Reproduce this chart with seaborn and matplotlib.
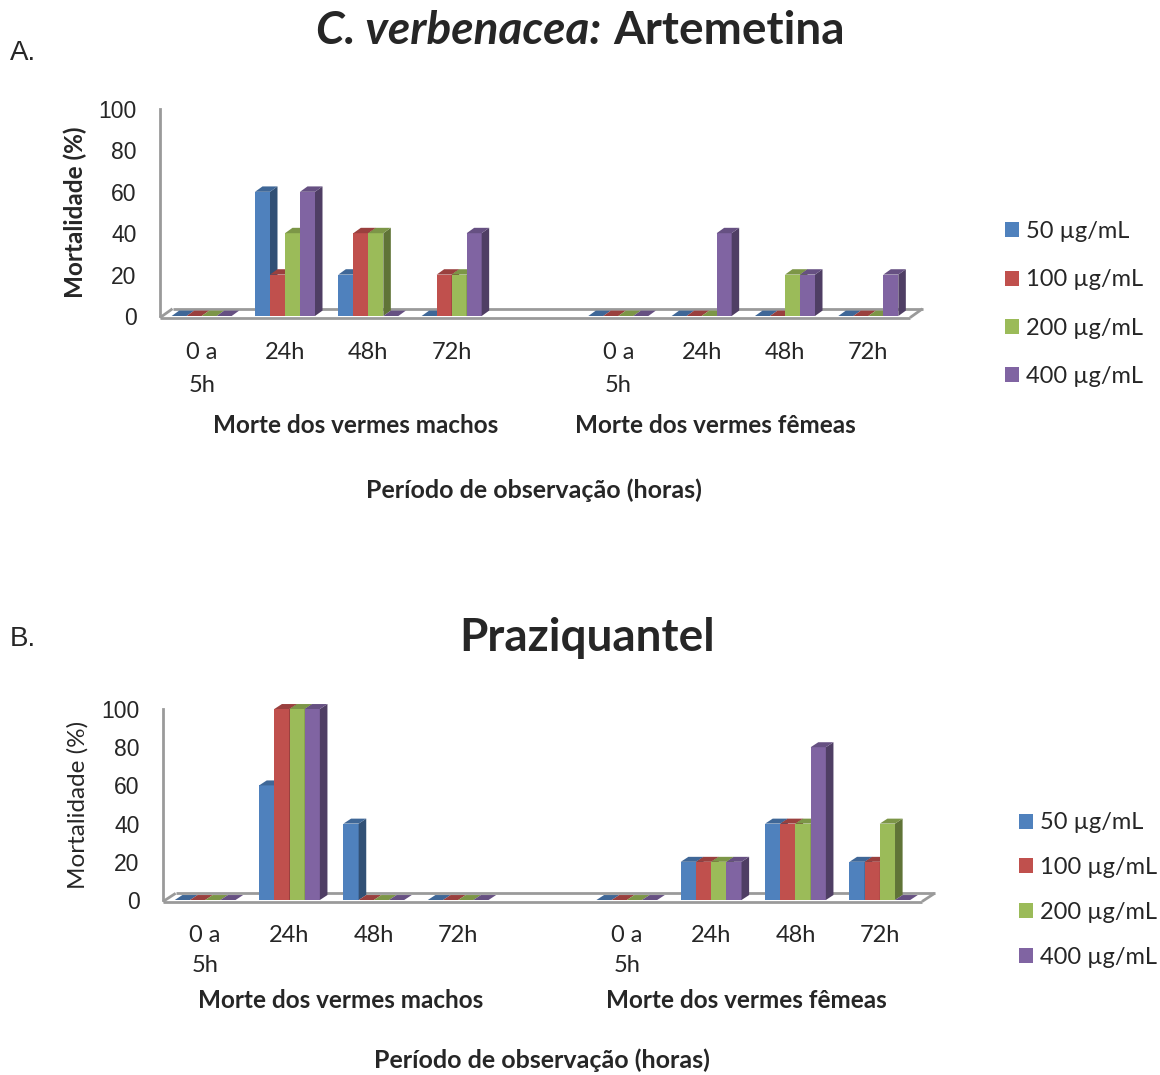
import numpy as np
import pandas as pd
import matplotlib
matplotlib.use("Agg")
import matplotlib.pyplot as plt
import matplotlib.colors as mcolors
import matplotlib.transforms as mtransforms
from matplotlib.patches import Polygon
import seaborn as sns

# ---------------- data ----------------
periods = ["0 a\n5h", "24h", "48h", "72h"]
groups = ["Morte dos vermes machos", "Morte dos vermes fêmeas"]
doses = ["50 µg/mL", "100 µg/mL", "200 µg/mL", "400 µg/mL"]
colors = ["#4F81BD", "#C0504D", "#9BBB59", "#8064A2"]
yticks = [0, 20, 40, 60, 80, 100]

# rows = doses (50, 100, 200, 400), columns = periods
art_machos = [[0, 60, 20, 0], [0, 20, 40, 20], [0, 40, 40, 20], [0, 60, 0, 40]]
art_femeas = [[0, 0, 0, 0], [0, 0, 0, 0], [0, 0, 20, 0], [0, 40, 20, 20]]
pzq_machos = [[0, 60, 40, 0], [0, 100, 0, 0], [0, 100, 0, 0], [0, 100, 0, 0]]
pzq_femeas = [[0, 20, 40, 20], [0, 20, 40, 20], [0, 20, 40, 40], [0, 20, 80, 0]]

title_a_italic = "C. verbenacea:"
title_a_rest = "Artemetina"
title_b = "Praziquantel"
ylabel = "Mortalidade (%)"
xlabel = "Período de observação (horas)"

slots = [f"m{i}" for i in range(4)] + ["gap"] + [f"f{i}" for i in range(4)]

FONT = ["Lato", "DejaVu Sans"]
ARIAL = ["Liberation Sans", "DejaVu Sans"]
GRAY = "#9A9A9A"


def make_df(machos, femeas):
    rows = []
    for d, dose in enumerate(doses):
        for i in range(4):
            rows.append({"slot": f"m{i}", "dose": dose, "value": machos[d][i]})
            rows.append({"slot": f"f{i}", "dose": dose, "value": femeas[d][i]})
    return pd.DataFrame(rows)


def darker(c, f):
    r, g, b = mcolors.to_rgb(c)
    return (r * f, g * f, b * f)


def draw_panel(fig, rect, machos, femeas, ylabel_weight, group_x, group_y,
               tick_pad, linesp, legend_anchor, legend_spacing, ylabelpad):
    ax = fig.add_axes(rect)
    df = make_df(machos, femeas)
    sns.barplot(data=df, x="slot", y="value", hue="dose", order=slots,
                hue_order=doses, palette=colors, width=0.72, errorbar=None,
                saturation=1, linewidth=0, ax=ax)
    ax.set_xlim(-0.5, 8.5)
    ax.set_ylim(0, 100)

    # pseudo-3D faces derived from bar patches
    dx, dy = 0.09, 2.6
    for k, cont in enumerate(ax.containers):
        col = colors[k]
        for p in cont.patches:
            h = p.get_height()
            if h is None or np.isnan(h):
                continue
            x0, w = p.get_x(), p.get_width()
            p.set_zorder(3 + k)
            side = Polygon([(x0 + w, 0), (x0 + w + dx, dy), (x0 + w + dx, h + dy), (x0 + w, h)],
                           closed=True, facecolor=darker(col, 0.62), edgecolor="none",
                           zorder=3.2 + k, clip_on=False)
            top = Polygon([(x0, h), (x0 + dx, h + dy), (x0 + w + dx, h + dy), (x0 + w, h)],
                          closed=True, facecolor=darker(col, 0.8), edgecolor="none",
                          zorder=3.2 + k, clip_on=False)
            ax.add_patch(side)
            ax.add_patch(top)

    # floor
    fdx, fdy = 0.15, 3.5
    x_l, x_r = -0.5, 8.5
    fl = dict(color=GRAY, lw=2, clip_on=False, zorder=2, solid_capstyle="butt")
    ax.plot([x_l, x_r], [-0.8, -0.8], **fl)
    ax.plot([x_l + fdx, x_r + fdx], [fdy, fdy], **fl)
    ax.plot([x_l, x_l + fdx], [-0.8, fdy], **fl)
    ax.plot([x_r, x_r + fdx], [-0.8, fdy], **fl)

    for s in ["top", "right", "bottom"]:
        ax.spines[s].set_visible(False)
    ax.spines["left"].set_color(GRAY)
    ax.spines["left"].set_linewidth(2)
    ax.set_facecolor("none")

    ax.set_yticks(yticks)
    ax.set_yticklabels([str(v) for v in yticks], fontsize=16.5, family=ARIAL)
    ax.tick_params(axis="y", length=6, width=2, color=GRAY, pad=11)

    ax.set_xticks(range(9))
    ax.set_xticklabels(periods + [""] + periods, fontsize=17)
    ax.set_xticks(np.arange(-0.5, 9.0, 1.0), minor=True)
    ax.tick_params(axis="x", which="major", length=0, pad=tick_pad)
    ax.tick_params(axis="x", which="minor", length=11, width=2, color=GRAY)
    for lab in ax.get_xticklabels():
        lab.set_linespacing(linesp)

    ax.set_xlabel("")
    ax.set_ylabel(ylabel, fontsize=17.5, fontweight=ylabel_weight, labelpad=ylabelpad)

    trans = mtransforms.blended_transform_factory(ax.transData, ax.transAxes)
    for gx, g in zip(group_x, groups):
        ax.text(gx, group_y, g, transform=trans, ha="center", va="center",
                fontsize=17.5, fontweight="bold")

    sns.move_legend(ax, loc="upper left", bbox_to_anchor=legend_anchor,
                    bbox_transform=fig.transFigure, frameon=False, title=None,
                    fontsize=17, labelspacing=legend_spacing, handlelength=0.6,
                    handleheight=0.6, handletextpad=0.3, borderaxespad=0)
    return ax


sns.set_theme(style="white")
plt.rcParams["font.family"] = FONT

fig = plt.figure(figsize=(11.6, 10.75), dpi=100)

# Panel A
draw_panel(fig, [160 / 1160, 1 - 316 / 1075, 750 / 1160, 207 / 1075],
           art_machos, art_femeas, "bold", group_x=[1.85, 6.16], group_y=-0.527,
           tick_pad=19, linesp=1.67, legend_anchor=(0.858, 0.803), legend_spacing=1.15,
           ylabelpad=8)
# Panel B
draw_panel(fig, [163 / 1160, 1 - 900 / 1075, 759 / 1160, 191 / 1075],
           pzq_machos, pzq_femeas, "normal", group_x=[1.61, 6.42], group_y=-0.524,
           tick_pad=18, linesp=1.52, legend_anchor=(0.870, 0.253), legend_spacing=1.01,
           ylabelpad=9)

# titles and labels
fig.text(0.527, 1 - 44 / 1075, title_a_italic + " ", ha="right", va="baseline",
         fontsize=33, fontweight="bold", fontstyle="italic")
fig.text(0.529, 1 - 44 / 1075, title_a_rest, ha="left", va="baseline",
         fontsize=33, fontweight="bold")
fig.text(587 / 1160, 1 - 651 / 1075, title_b, ha="center", va="baseline",
         fontsize=33, fontweight="bold")
fig.text(10 / 1160, 1 - 60 / 1075, "A.", ha="left", va="baseline", fontsize=20,
         family=ARIAL)
fig.text(10 / 1160, 1 - 646 / 1075, "B.", ha="left", va="baseline", fontsize=20,
         family=ARIAL)
fig.text(534 / 1160, 1 - 490 / 1075, xlabel, ha="center", va="center",
         fontsize=18, fontweight="bold")
fig.text(542 / 1160, 1 - 1060 / 1075, xlabel, ha="center", va="center",
         fontsize=18, fontweight="bold")

fig.savefig("out.png", dpi=100)
